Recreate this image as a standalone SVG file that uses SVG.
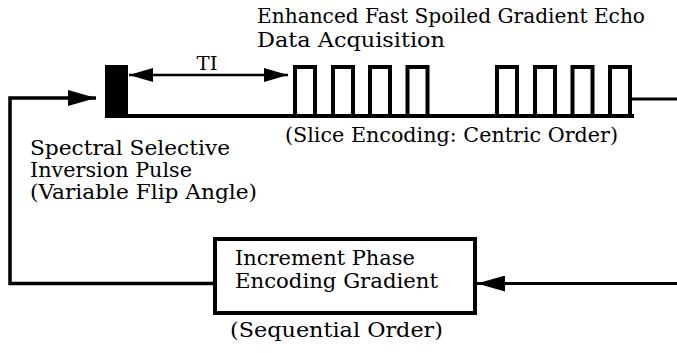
<svg xmlns="http://www.w3.org/2000/svg" width="677" height="353" viewBox="0 0 677 353">
<defs>
<style>
text{font-family:"DejaVu Serif","Liberation Serif",serif;font-size:20.5px;fill:#000}
.ln{stroke:#000;fill:none;stroke-linecap:butt}
.pulse{fill:#fff;stroke:#000;stroke-width:4}
</style>
<marker id="ah" markerUnits="userSpaceOnUse" markerWidth="28" markerHeight="16" refX="28" refY="8" orient="auto-start-reverse">
<path d="M0,0 L28,8 L0,16 z" fill="#000"/>
</marker>
<marker id="ti" markerUnits="userSpaceOnUse" markerWidth="24" markerHeight="14" refX="24" refY="7" orient="auto-start-reverse">
<path d="M0,0 L24,7 L0,14 z" fill="#000"/>
</marker>
</defs>
<rect width="677" height="353" fill="#fff"/>
<g id="connectors">
<polyline class="ln" stroke-width="3.5" points="215,283.5 10,283.5 10,98 96,98" marker-end="url(#ah)"/>
<line class="ln" stroke-width="3" x1="677" y1="283.5" x2="477" y2="283.5" marker-end="url(#ah)"/>
<line class="ln" stroke-width="3" x1="631" y1="99" x2="677" y2="99"/>
<line class="ln" stroke-width="2.5" x1="129" y1="75" x2="288" y2="75" marker-start="url(#ti)" marker-end="url(#ti)"/>
</g>
<g id="inversion-pulse">
<rect x="105" y="65" width="23" height="53" fill="#000"/>
<text x="30" y="155" textLength="200" lengthAdjust="spacingAndGlyphs">Spectral Selective</text>
<text x="30" y="177" textLength="162" lengthAdjust="spacingAndGlyphs">Inversion Pulse</text>
<text x="30" y="199" textLength="227" lengthAdjust="spacingAndGlyphs">(Variable Flip Angle)</text>
</g>
<g id="ti-label">
<text x="207" y="70" text-anchor="middle" style="font-size:19px" textLength="21" lengthAdjust="spacingAndGlyphs">TI</text>
</g>
<g id="acquisition">
<line class="ln" stroke-width="4" x1="126" y1="116" x2="634" y2="116"/>
<rect class="pulse" x="295" y="67" width="20" height="49"/>
<rect class="pulse" x="333" y="67" width="20" height="49"/>
<rect class="pulse" x="370" y="67" width="20" height="49"/>
<rect class="pulse" x="407.5" y="67" width="20" height="49"/>
<rect class="pulse" x="497" y="67" width="20" height="49"/>
<rect class="pulse" x="535" y="67" width="20" height="49"/>
<rect class="pulse" x="572.5" y="67" width="20" height="49"/>
<rect class="pulse" x="610" y="67" width="20" height="49"/>
<text x="257" y="23" textLength="388" lengthAdjust="spacingAndGlyphs">Enhanced Fast Spoiled Gradient Echo</text>
<text x="257" y="47" textLength="188" lengthAdjust="spacingAndGlyphs">Data Acquisition</text>
<text x="285" y="142" textLength="333" lengthAdjust="spacingAndGlyphs">(Slice Encoding: Centric Order)</text>
</g>
<g id="phase-increment">
<rect x="215" y="239" width="260" height="74" fill="#fff" stroke="#000" stroke-width="4"/>
<text x="235" y="265" textLength="180" lengthAdjust="spacingAndGlyphs">Increment Phase</text>
<text x="235" y="288" textLength="203" lengthAdjust="spacingAndGlyphs">Encoding Gradient</text>
<text x="230" y="337" textLength="213" lengthAdjust="spacingAndGlyphs">(Sequential Order)</text>
</g>
</svg>
